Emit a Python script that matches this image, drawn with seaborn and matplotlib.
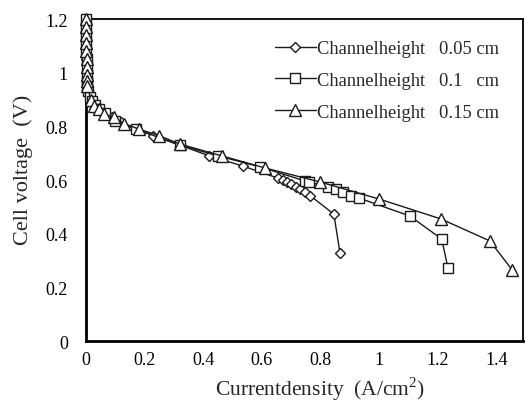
import matplotlib
matplotlib.use("Agg")
import matplotlib.pyplot as plt
import seaborn as sns
import pandas as pd

# ---- data ----
x_d = [0.000, 0.000, 0.000, 0.001, 0.001, 0.001, 0.002, 0.002, 0.003, 0.003, 0.004, 0.005,
       0.008, 0.012, 0.020, 0.030, 0.045, 0.065, 0.090, 0.120, 0.170, 0.230, 0.320, 0.420,
       0.535, 0.655, 0.670, 0.685, 0.700, 0.715, 0.730, 0.745, 0.765, 0.845, 0.866]
y_d = [1.20, 1.17, 1.14, 1.11, 1.08, 1.05, 1.02, 1.00, 0.98, 0.965, 0.95, 0.94,
       0.925, 0.91, 0.895, 0.88, 0.865, 0.85, 0.835, 0.815, 0.79, 0.765, 0.73, 0.69,
       0.652, 0.607, 0.600, 0.592, 0.585, 0.575, 0.566, 0.555, 0.541, 0.473, 0.328]

x_s = [0.000, 0.000, 0.000, 0.001, 0.001, 0.002, 0.002, 0.003, 0.004, 0.005, 0.008, 0.012,
       0.020, 0.030, 0.045, 0.065, 0.100, 0.170, 0.320, 0.450, 0.594, 0.745, 0.761, 0.824,
       0.852, 0.876, 0.903, 0.930, 1.104, 1.213, 1.234]
y_s = [1.20, 1.17, 1.14, 1.11, 1.08, 1.05, 1.02, 0.99, 0.97, 0.95, 0.93, 0.91,
       0.895, 0.88, 0.865, 0.85, 0.82, 0.79, 0.73, 0.69, 0.649, 0.597, 0.593, 0.574,
       0.566, 0.555, 0.540, 0.533, 0.466, 0.380, 0.272]

x_t = [0.000, 0.000, 0.000, 0.001, 0.001, 0.002, 0.002, 0.003, 0.004, 0.005, 0.016, 0.027,
       0.044, 0.060, 0.095, 0.130, 0.180, 0.250, 0.320, 0.463, 0.610, 0.797, 1.000, 1.210,
       1.377, 1.453]
y_t = [1.20, 1.17, 1.14, 1.11, 1.08, 1.05, 1.02, 0.99, 0.97, 0.95, 0.90, 0.876,
       0.865, 0.846, 0.835, 0.81, 0.79, 0.765, 0.734, 0.69, 0.645, 0.593, 0.529, 0.455,
       0.373, 0.265]

labels = ["Channelheight   0.05 cm", "Channelheight   0.1   cm", "Channelheight   0.15 cm"]
markers = ["D", "s", "^"]
msizes = [5.0, 7.5, 8.0]
x_ticks = [0, 0.2, 0.4, 0.6, 0.8, 1.0, 1.2, 1.4]
x_ticklabels = ["0", "0.2", "0.4", "0.6", "0.8", "1", "1.2", "1.4"]
y_ticks = [0, 0.2, 0.4, 0.6, 0.8, 1.0, 1.2]
y_ticklabels = ["0", "0.2", "0.4", "0.6", "0.8", "1", "1.2"]

sns.set_style("white")
plt.rcParams["font.family"] = ["Liberation Serif", "DejaVu Serif"]
plt.rcParams["mathtext.fontset"] = "custom"
plt.rcParams["mathtext.rm"] = "Liberation Serif"

fig = plt.figure(figsize=(5.26, 4.06), dpi=100)
ax = fig.add_axes([0.1635, 0.1576, 0.8308, 0.7931])

series = [(x_d, y_d), (x_s, y_s), (x_t, y_t)]
for (xs, ys), lab, mk, ms in zip(series, labels, markers, msizes):
    df = pd.DataFrame({"x": xs, "y": ys})
    sns.lineplot(data=df, x="x", y="y", ax=ax, estimator=None, sort=False,
                 color="#1a1a1a", linewidth=1.0, marker=mk, markersize=ms,
                 markerfacecolor="white", markeredgecolor="#1a1a1a",
                 markeredgewidth=1.0, label=lab, clip_on=False, zorder=3)

ax.set_xlim(0, 1.49)
ax.set_ylim(0, 1.2)
ax.set_xticks(x_ticks)
ax.set_xticklabels(x_ticklabels)
ax.set_yticks(y_ticks)
ax.set_yticklabels(y_ticklabels)

for side in ["left", "bottom"]:
    ax.spines[side].set_linewidth(2.0)
for side in ["top", "right"]:
    ax.spines[side].set_linewidth(1.3)
for s in ax.spines.values():
    s.set_color("black")
    s.set_visible(True)

ax.tick_params(axis="both", direction="in", length=5, width=1.2, labelsize=13,
               colors="black")
ax.tick_params(axis="y", pad=13)
ax.tick_params(axis="x", pad=7)

ax.set_xlabel("Currentdensity  (A/cm$^2$)", fontsize=15.5)
ax.xaxis.set_label_coords(0.535, -0.105)
ax.set_ylabel("Cell voltage  (V)", fontsize=16)
ax.yaxis.set_label_coords(-0.122, 0.534)

leg = ax.legend(loc="upper left", bbox_to_anchor=(275 / 526, 1 - 41 / 406),
                bbox_transform=fig.transFigure, frameon=False, fontsize=13.3,
                handlelength=2.2, handletextpad=0.1, labelspacing=0.8,
                borderpad=0, borderaxespad=0)

fig.savefig("out.png", dpi=100)
